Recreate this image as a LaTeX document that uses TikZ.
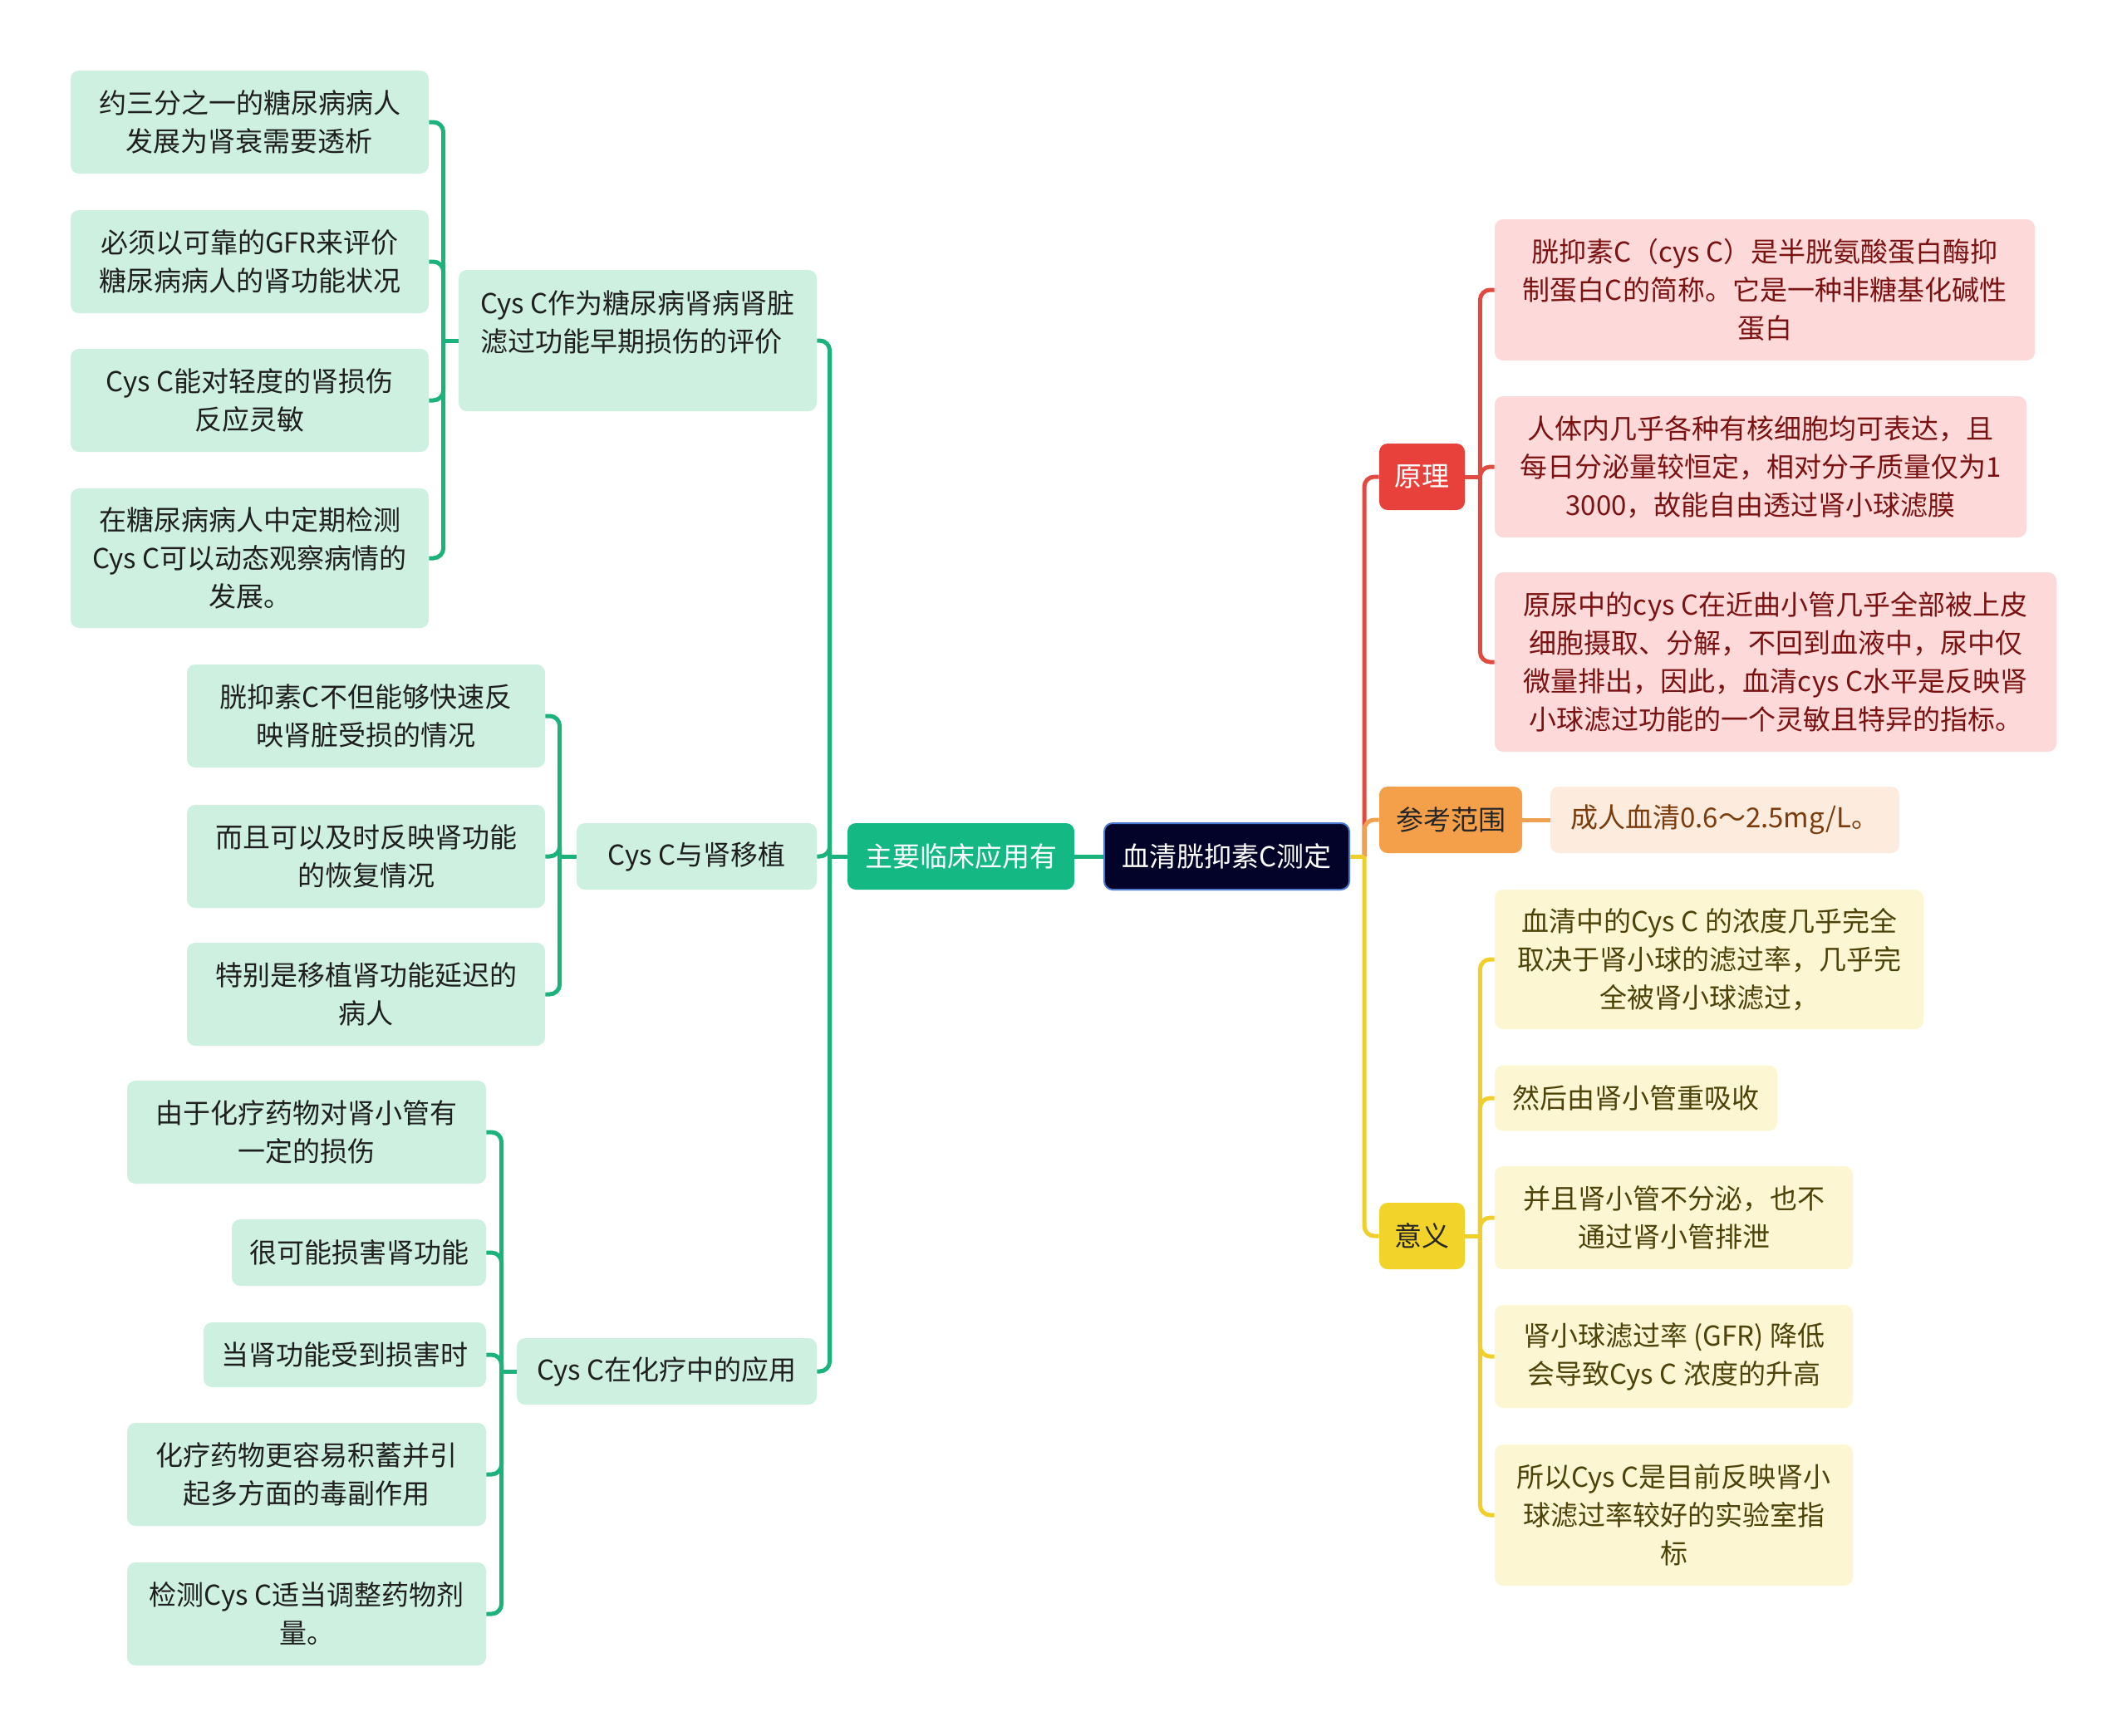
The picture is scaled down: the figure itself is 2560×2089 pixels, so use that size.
\documentclass[tikz,border=0pt]{standalone}
\usepackage{fontspec}
\setmainfont{Noto Sans CJK SC}
\definecolor{gline}{HTML}{1CB27C}
\definecolor{gleaf}{HTML}{CDF0E1}
\definecolor{gmain}{HTML}{14B882}
\definecolor{rootfill}{HTML}{03032A}
\definecolor{rootedge}{HTML}{4A7AD0}
\definecolor{rline}{HTML}{E04A40}
\definecolor{rfill}{HTML}{E8413B}
\definecolor{rleaf}{HTML}{FDD9D9}
\definecolor{rtext}{HTML}{7A1212}
\definecolor{oline}{HTML}{F0A050}
\definecolor{ofill}{HTML}{F4A04A}
\definecolor{oleaf}{HTML}{FDEBDD}
\definecolor{otext}{HTML}{7A3C0C}
\definecolor{yline}{HTML}{F0CF2A}
\definecolor{yfill}{HTML}{F2D32A}
\definecolor{yleaf}{HTML}{FDF6D3}
\definecolor{ytext}{HTML}{4D4208}
\newcommand{\fs}{\fontsize{16.5}{23}\selectfont}
\tikzset{
  box/.style={rounded corners=5pt, inner sep=0pt, align=center, font=\fs},
  sz/.style 2 args={minimum width=#1*0.5pt, minimum height=#2*0.5pt},
  gleafbox/.style={box, fill=gleaf, text=black!88},
  rleafbox/.style={box, fill=rleaf, text=rtext},
  oleafbox/.style={box, fill=oleaf, text=otext},
  yleafbox/.style={box, fill=yleaf, text=ytext},
  con/.style={line width=2.5pt, rounded corners=6pt},
  gcon/.style={con, draw=gline},
  rcon/.style={con, draw=rline},
  ocon/.style={con, draw=oline},
  ycon/.style={con, draw=yline},
}
\begin{document}
\begin{tikzpicture}[x=0.5pt,y=-0.5pt]
\useasboundingbox[fill=white] (0,0) rectangle (2560,2089);

% central and main
\node[box, sz={295}{80}, fill=rootfill, draw=rootedge, line width=1pt, text=white] (root) at (1476.5,1031) {血清胱抑素C测定};
\node[box, sz={273}{80}, fill=gmain, text=white] (main) at (1156.5,1031) {主要临床应用有};

% left branches
\node[gleafbox, sz={431}{170}, align=left] (b1) at (767.5,410) {Cys C作为糖尿病肾病肾脏\\滤过功能早期损伤的评价\\\mbox{}};
\node[gleafbox, sz={289}{80}] (b2) at (838.5,1031) {Cys C与肾移植};
\node[gleafbox, sz={361}{80}] (b3) at (802.5,1651) {Cys C在化疗中的应用};

% group 1
\node[gleafbox, sz={431}{124}] (a1) at (300.5,147) {约三分之一的糖尿病病人\\发展为肾衰需要透析};
\node[gleafbox, sz={431}{124}] (a2) at (300.5,315) {必须以可靠的GFR来评价\\糖尿病病人的肾功能状况};
\node[gleafbox, sz={431}{124}] (a3) at (300.5,482) {Cys C能对轻度的肾损伤\\反应灵敏};
\node[gleafbox, sz={431}{168}] (a4) at (300.5,672) {在糖尿病病人中定期检测\\Cys C可以动态观察病情的\\发展。};

% group 2
\node[gleafbox, sz={431}{124}] (c1) at (440.5,862) {胱抑素C不但能够快速反\\映肾脏受损的情况};
\node[gleafbox, sz={431}{124}] (c2) at (440.5,1031) {而且可以及时反映肾功能\\的恢复情况};
\node[gleafbox, sz={431}{124}] (c3) at (440.5,1197) {特别是移植肾功能延迟的\\病人};

% group 3
\node[gleafbox, sz={432}{124}] (d1) at (369,1363) {由于化疗药物对肾小管有\\一定的损伤};
\node[gleafbox, sz={306}{80}] (d2) at (432,1508) {很可能损害肾功能};
\node[gleafbox, sz={340}{78}] (d3) at (415,1631) {当肾功能受到损害时};
\node[gleafbox, sz={432}{124}] (d4) at (369,1775) {化疗药物更容易积蓄并引\\起多方面的毒副作用};
\node[gleafbox, sz={432}{124}] (d5) at (369,1943) {检测Cys C适当调整药物剂\\量。};

% right branches
\node[box, sz={103}{80}, fill=rfill, text=white] (yl) at (1711.5,574) {原理};
\node[box, sz={172}{80}, fill=ofill, text=black!85] (ck) at (1746,987) {参考范围};
\node[box, sz={103}{80}, fill=yfill, text=black!85] (yy) at (1711.5,1488) {意义};

\node[rleafbox, sz={650}{170}] (p1) at (2124,349) {胱抑素C（cys C）是半胱氨酸蛋白酶抑\\制蛋白C的简称。它是一种非糖基化碱性\\蛋白};
\node[rleafbox, sz={640}{170}] (p2) at (2119,562) {人体内几乎各种有核细胞均可表达，且\\每日分泌量较恒定，相对分子质量仅为1\\3000，故能自由透过肾小球滤膜};
\node[rleafbox, sz={676}{216}] (p3) at (2137,797) {原尿中的cys C在近曲小管几乎全部被上皮\\细胞摄取、分解，不回到血液中，尿中仅\\微量排出，因此，血清cys C水平是反映肾\\小球滤过功能的一个灵敏且特异的指标。};

\node[oleafbox, sz={420}{80}] (r1) at (2076,987) {成人血清0.6～2.5mg/L。};

\node[yleafbox, sz={516}{168}] (y1) at (2057,1155) {血清中的Cys C 的浓度几乎完全\\取决于肾小球的滤过率，几乎完\\全被肾小球滤过，};
\node[yleafbox, sz={340}{79}] (y2) at (1969,1322) {然后由肾小管重吸收};
\node[yleafbox, sz={431}{124}] (y3) at (2014.5,1466) {并且肾小管不分泌，也不\\通过肾小管排泄};
\node[yleafbox, sz={431}{124}] (y4) at (2014.5,1633) {肾小球滤过率 (GFR) 降低\\会导致Cys C 浓度的升高};
\node[yleafbox, sz={431}{170}] (y5) at (2014.5,1824) {所以Cys C是目前反映肾小\\球滤过率较好的实验室指\\标};

% ---- connectors left ----
\draw[gcon] (root.west) -- (main.east);
\draw[gcon] (main.west) -- ++(-21,0);
\foreach \n in {b1,b2,b3} \draw[gcon] (main.west) ++(-21,0) |- (\n.east);

\draw[gcon] (b1.west) -- ++(-18,0);
\foreach \n in {a1,a2,a3,a4} \draw[gcon] (b1.west) ++(-18,0) |- (\n.east);

\draw[gcon] (b2.west) -- ++(-20,0);
\foreach \n in {c1,c2,c3} \draw[gcon] (b2.west) ++(-20,0) |- (\n.east);

\draw[gcon] (b3.west) -- ++(-18,0);
\foreach \n in {d1,d2,d3,d4,d5} \draw[gcon] (b3.west) ++(-18,0) |- (\n.east);

% ---- connectors right ----
\draw[rcon] (root.east) ++(17,0) |- (yl.west);
\draw[ocon] (root.east) ++(17,0) |- (ck.west);
\draw[ycon] (root.east) -- ++(17,0);
\draw[ycon] (root.east) ++(17,0) |- (yy.west);

\draw[rcon] (yl.east) -- ++(18,0);
\foreach \n in {p1,p2,p3} \draw[rcon] (yl.east) ++(18,0) |- (\n.west);

\draw[ocon] (ck.east) -- (r1.west);

\draw[ycon] (yy.east) -- ++(18,0);
\foreach \n in {y1,y2,y3,y4,y5} \draw[ycon] (yy.east) ++(18,0) |- (\n.west);
\end{tikzpicture}
\end{document}
